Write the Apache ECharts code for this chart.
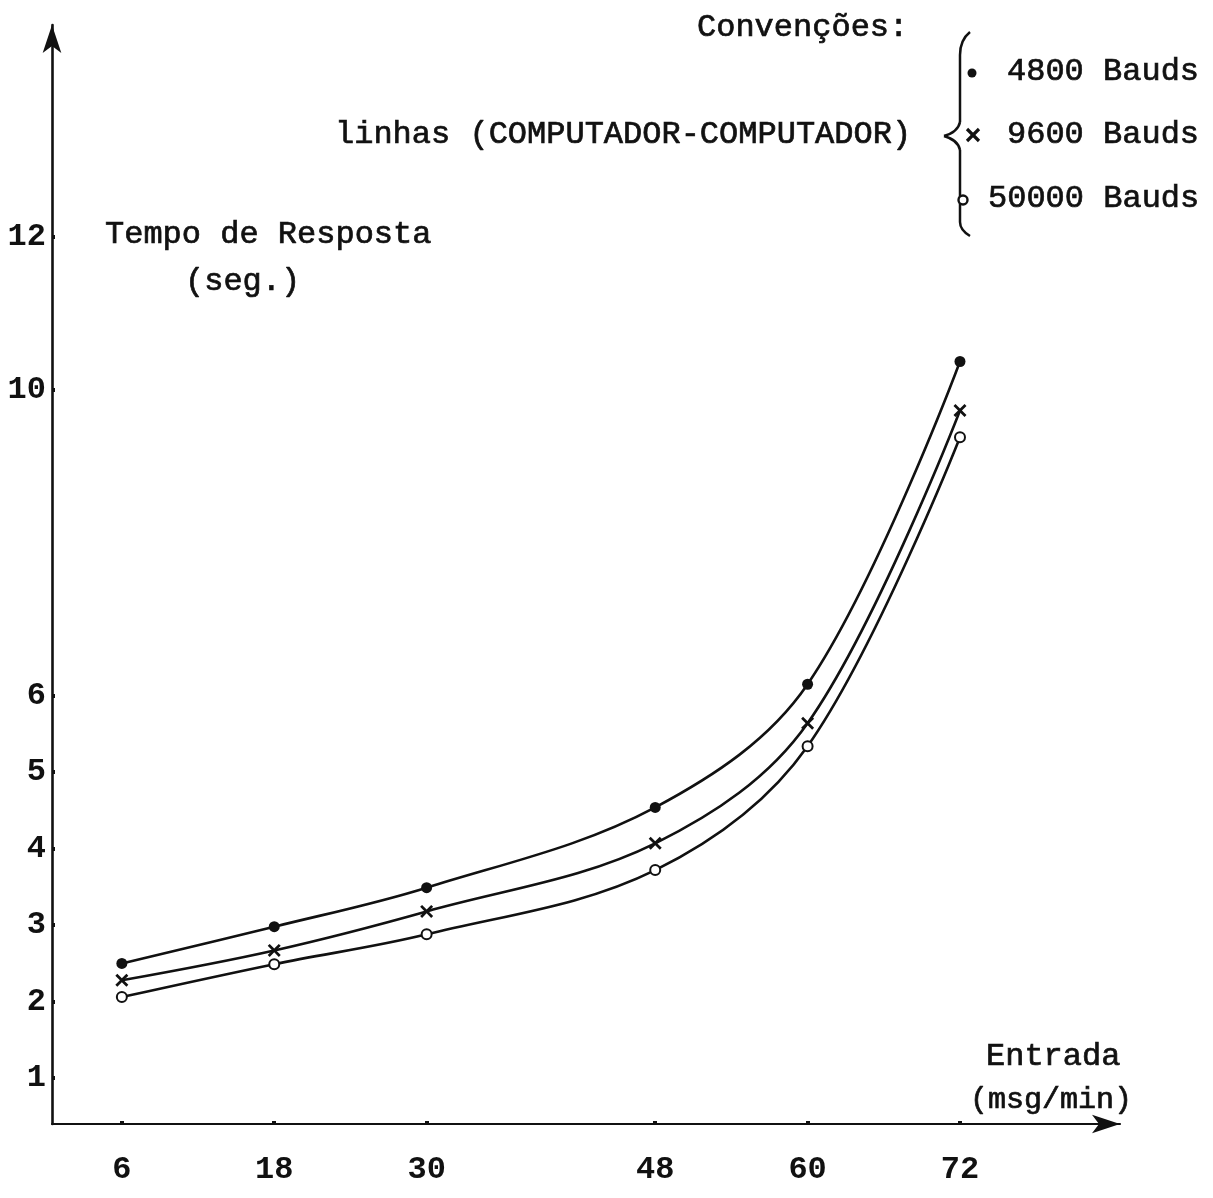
<!DOCTYPE html>
<html>
<head>
<meta charset="utf-8">
<script src="https://cdn.jsdelivr.net/npm/echarts@6/dist/echarts.min.js"></script>
<style>
  html, body { margin: 0; padding: 0; background: #fff; }
  #grafico { width: 1213px; height: 1198px; }
</style>
</head>
<body>
<div id="grafico"></div>
<script>
// entrada (msg/min) e tempo de resposta (seg.)
var entradas = [6, 18, 30, 48, 60, 72];
var t4800 = [2.50, 2.98, 3.49, 4.54, 6.15, 10.37];
var t9600 = [2.28, 2.67, 3.18, 4.07, 5.64, 9.73];
var t50000 = [2.06, 2.49, 2.88, 3.72, 5.34, 9.38];
var xTicks = [6, 18, 30, 48, 60, 72];
var yTicks = [1, 2, 3, 4, 5, 6, 10, 12];
var legenda = ['4800 Bauds', '9600 Bauds', '50000 Bauds'];

var dom = document.getElementById('grafico');
var myChart = echarts.init(dom);

var fonte = '"Liberation Mono", "DejaVu Sans Mono", monospace';
var cor = '#111';
var cruz = 'path://M0,1.5L1.5,0L5,3.5L8.5,0L10,1.5L6.5,5L10,8.5L8.5,10L5,6.5L1.5,10L0,8.5L3.5,5Z';

function pares(ys) {
  return entradas.map(function (x, i) { return [x, ys[i]]; });
}

function serie(nome, ys, simbolo, tam, estilo) {
  return {
    name: nome,
    type: 'line',
    smooth: 0.35,
    data: pares(ys),
    symbol: simbolo,
    symbolSize: tam,
    showAllSymbol: true,
    lineStyle: { color: cor, width: 2.6 },
    itemStyle: estilo,
    emphasis: { disabled: true },
    silent: true
  };
}

function texto(t, x, y, tam) {
  return {
    type: 'text', x: x, y: y,
    style: { text: t, font: (tam || 32) + 'px ' + fonte, fill: cor, stroke: cor, lineWidth: 0.7, verticalAlign: 'middle' }
  };
}

var traco = { stroke: cor, lineWidth: 2.5, fill: null };
function curva(x1, y1, cx, cy, x2, y2) {
  return { type: 'bezierCurve', shape: { x1: x1, y1: y1, cpx1: cx, cpy1: cy, x2: x2, y2: y2 }, style: traco };
}
function reta(x1, y1, x2, y2, w) {
  return { type: 'line', shape: { x1: x1, y1: y1, x2: x2, y2: y2 }, style: { stroke: cor, lineWidth: w || 2.5 } };
}

var option = {
  animation: false,
  backgroundColor: '#fff',
  grid: { left: 52, right: 93, top: 25, bottom: 74 },
  xAxis: {
    type: 'value',
    min: 0.5,
    max: 84.6,
    splitLine: { show: false },
    axisLine: {
      lineStyle: { color: cor, width: 2.2 },
      symbol: ['none', 'arrow'],
      symbolSize: [14, 28]
    },
    axisTick: { customValues: xTicks, length: 3, inside: true, lineStyle: { color: cor, width: 4 } },
    axisLabel: {
      customValues: xTicks,
      margin: 30,
      color: cor,
      fontFamily: fonte,
      fontSize: 32,
      fontWeight: 'bold'
    }
  },
  yAxis: {
    type: 'value',
    min: 0.4,
    max: 14.77,
    splitLine: { show: false },
    axisLine: {
      lineStyle: { color: cor, width: 2.6 },
      symbol: ['none', 'arrow'],
      symbolSize: [14, 28]
    },
    axisTick: { customValues: yTicks, length: 3, inside: true, lineStyle: { color: cor, width: 4 } },
    axisLabel: {
      customValues: yTicks,
      margin: 6,
      color: cor,
      fontFamily: fonte,
      fontSize: 32,
      fontWeight: 'bold'
    }
  },
  series: [
    serie(legenda[0], t4800, 'circle', 11, { color: cor }),
    serie(legenda[1], t9600, cruz, 13, { color: cor }),
    serie(legenda[2], t50000, 'emptyCircle', 10, { color: cor, borderColor: cor, borderWidth: 2.4 })
  ],
  graphic: [
    texto('Convenções:', 697, 28),
    texto('linhas (COMPUTADOR-COMPUTADOR)', 335, 135),
    texto(legenda[0], 1007, 72),
    texto(legenda[1], 1007, 135),
    texto(legenda[2], 988, 199),
    texto('Tempo de Resposta', 105, 235),
    texto('(seg.)', 185, 282),
    texto('Entrada', 986, 1057),
    texto('(msg/min)', 970, 1100, 30),
    // chave da legenda
    curva(970, 32, 960, 40, 960, 55),
    reta(960, 55, 960, 122),
    curva(960, 122, 958, 132, 944, 136),
    curva(944, 136, 958, 140, 960, 150),
    reta(960, 150, 960, 222),
    curva(960, 222, 960, 230, 970, 236),
    { type: 'circle', shape: { cx: 972, cy: 73, r: 4.5 }, style: { fill: cor } },
    reta(967, 129, 979, 141, 3.2),
    reta(979, 129, 967, 141, 3.2),
    { type: 'circle', shape: { cx: 963, cy: 200, r: 4.5 }, style: { fill: '#fff', stroke: cor, lineWidth: 2.4 } }
  ]
};

myChart.setOption(option);
</script>
</body>
</html>
